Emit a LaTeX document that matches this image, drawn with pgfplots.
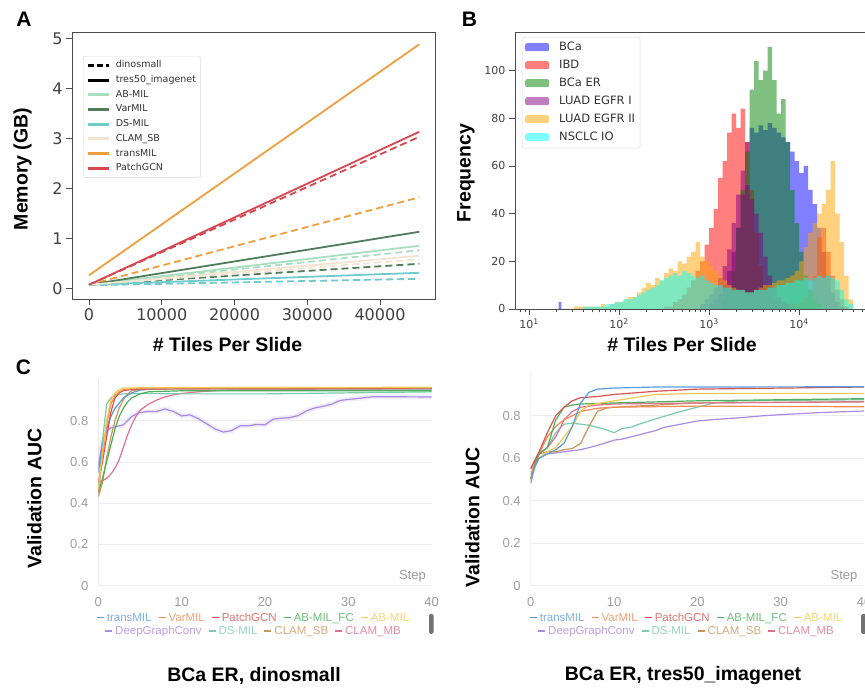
\documentclass[border=0pt]{standalone}
\usepackage{fontspec}
\setmainfont{Liberation Sans}
\newfontfamily\dejavu{DejaVu Sans}
\usepackage{pgfplots}
\usepackage{pgfplotstable}
\pgfplotsset{compat=1.18}

\definecolor{aabmil}{HTML}{A8DFC0}
\definecolor{avarmil}{HTML}{4F7D5A}
\definecolor{adsmil}{HTML}{70CCCC}
\definecolor{aclamsb}{HTML}{F3E4D2}
\definecolor{atrans}{HTML}{EEA040}
\definecolor{apatch}{HTML}{D8474F}

\definecolor{hblue}{rgb}{0,0,1}
\definecolor{hred}{rgb}{1,0,0}
\definecolor{hgreen}{rgb}{0,0.5,0}
\definecolor{hpurple}{rgb}{0.5,0,0.5}
\definecolor{horange}{rgb}{1,0.647,0}
\definecolor{hcyan}{rgb}{0,1,1}

\definecolor{ctrans}{HTML}{5A9BE0}
\definecolor{cvar}{HTML}{F28A52}
\definecolor{cpatch}{HTML}{D9534F}
\definecolor{cabfc}{HTML}{4CAF5A}
\definecolor{cab}{HTML}{F2C94C}
\definecolor{cdgc}{HTML}{A88BE3}
\definecolor{cds}{HTML}{7CCBAE}
\definecolor{csb}{HTML}{C9975A}
\definecolor{cmb}{HTML}{E0708F}

% ---------- histogram data (lx = log10 of tiles per slide, c = count) ----------
\pgfplotstableread{
lx c
1.33 3
1.36 0
2.90 2
2.95 4
3.00 6
3.05 9
3.10 13
3.15 18
3.20 25
3.25 36
3.30 48
3.35 58
3.40 70
3.45 76
3.50 74
3.55 77
3.60 75
3.65 78
3.70 76
3.75 74
3.80 72
3.85 70
3.90 66
3.95 62
4.00 57
4.05 60
4.10 50
4.15 44
4.20 34
4.25 24
4.30 14
4.35 7
4.40 3
4.45 1
4.50 0
}\hBCa
\pgfplotstableread{
lx c
2.50 1
2.60 3
2.65 4
2.70 6
2.75 9
2.80 12
2.85 16
2.90 20
2.95 27
3.00 34
3.05 42
3.10 55
3.15 62
3.20 74
3.25 82
3.30 76
3.35 84
3.40 70
3.45 50
3.50 32
3.55 18
3.60 10
3.65 6
3.70 4
3.75 3
3.80 2
3.90 2
4.00 3
4.05 5
4.10 8
4.15 14
4.20 30
4.25 34
4.30 24
4.35 14
4.40 8
4.45 4
4.50 1
4.55 0
}\hIBD
\pgfplotstableread{
lx c
3.15 4
3.20 8
3.25 16
3.30 34
3.35 50
3.40 66
3.45 92
3.50 104
3.55 96
3.60 100
3.65 110
3.70 96
3.75 82
3.80 88
3.85 70
3.90 50
3.95 36
4.00 24
4.05 14
4.10 8
4.15 4
4.20 2
4.25 0
}\hBCaER
\pgfplotstableread{
lx c
3.00 2
3.05 4
3.10 6
3.15 10
3.20 16
3.25 24
3.30 34
3.35 48
3.40 52
3.45 46
3.50 40
3.55 32
3.60 22
3.65 14
3.70 9
3.75 5
3.80 3
3.85 2
3.90 1
3.95 0
}\hEGFRa
\pgfplotstableread{
lx c
1.50 1
1.60 1
1.70 1
1.80 2
1.85 1
1.90 2
1.95 3
2.00 3
2.05 4
2.10 5
2.15 5
2.20 7
2.25 9
2.30 11
2.35 10
2.40 13
2.45 12
2.50 15
2.55 17
2.60 16
2.65 20
2.70 19
2.75 22
2.80 24
2.85 28
2.90 22
2.95 20
3.00 18
3.05 16
3.10 14
3.15 12
3.20 10
3.25 9
3.30 8
3.35 8
3.40 7
3.45 7
3.50 8
3.55 9
3.60 10
3.65 10
3.70 11
3.75 12
3.80 12
3.85 13
3.90 14
3.95 16
4.00 20
4.05 26
4.10 32
4.15 36
4.20 40
4.25 44
4.30 50
4.35 62
4.40 40
4.45 28
4.50 14
4.55 4
4.60 0
}\hEGFRb
\pgfplotstableread{
lx c
1.60 1
1.70 1
1.80 1
1.85 2
1.90 2
1.95 3
2.00 3
2.05 4
2.10 4
2.15 5
2.20 6
2.25 7
2.30 8
2.35 9
2.40 10
2.45 12
2.50 13
2.55 14
2.60 15
2.65 14
2.70 16
2.75 15
2.80 14
2.85 13
2.90 14
2.95 12
3.00 11
3.05 10
3.10 10
3.15 9
3.20 9
3.25 8
3.30 8
3.35 8
3.40 7
3.45 7
3.50 8
3.55 8
3.60 8
3.65 9
3.70 9
3.75 10
3.80 10
3.85 11
3.90 11
3.95 12
4.00 12
4.05 13
4.10 12
4.15 13
4.20 14
4.25 13
4.30 14
4.35 13
4.40 12
4.45 8
4.50 4
4.55 2
4.60 0
}\hNSCLC

\newcommand{\ldash}[1]{\textcolor{#1}{\rule[3pt]{7pt}{1.6pt}}\hspace{3pt}}
\newcommand{\lent}[2]{\ldash{#1}\textcolor{#1!80!white}{#2}}

\begin{document}
\begin{tikzpicture}[x=1pt,y=1pt]
\useasboundingbox (0,0) rectangle (865,692);
\fill[white] (0,0) rectangle (865,692);

% ================= Panel A =================
\begin{axis}[at={(72pt,393pt)}, anchor=south west, scale only axis,
  width=363pt, height=267pt,
  xmin=-2337, xmax=47560, ymin=-0.214, ymax=5.126,
  xtick={0,10000,20000,30000,40000}, ytick={0,1,2,3,4,5},
  scaled ticks=false,
  /pgf/number format/1000 sep={},
  /pgf/number format/assume math mode=true,
  tick align=outside, major tick length=6pt,
  xtick pos=lower, ytick pos=left,
  tick style={black!70, line width=0.8pt},
  axis line style={black!70, line width=0.8pt},
  ticklabel style={font=\dejavu\fontsize{16}{16}\selectfont, text=black!75},
  legend cell align=left,
  legend style={at={(0.0303,0.91)}, anchor=north west,
    font=\dejavu\fontsize{9.5}{10}\selectfont, text=black!80,
    draw=black!15, rounded corners=2pt, inner sep=3pt, row sep=2.5pt,
    nodes={inner sep=1.6pt, text height=7pt, text depth=2pt},
    /tikz/every odd column/.append style={column sep=4pt}},
  legend image code/.code={\draw[#1] (0pt,0pt) -- (21pt,0pt);},
]
\addlegendimage{black, line width=3pt, dash pattern=on 6pt off 3pt}
\addlegendentry{dinosmall}
\addlegendimage{black, line width=3pt}
\addlegendentry{tres50\_imagenet}
\addlegendimage{aabmil, line width=3pt}
\addlegendentry{AB-MIL}
\addlegendimage{avarmil, line width=3pt}
\addlegendentry{VarMIL}
\addlegendimage{adsmil, line width=3pt}
\addlegendentry{DS-MIL}
\addlegendimage{aclamsb, line width=3pt}
\addlegendentry{CLAM\_SB}
\addlegendimage{atrans, line width=3pt}
\addlegendentry{transMIL}
\addlegendimage{apatch, line width=3pt}
\addlegendentry{PatchGCN}
\pgfplotsset{dsh/.style={line width=1.8pt, dash pattern=on 7pt off 4pt, forget plot}}
\pgfplotsset{sld/.style={line width=1.8pt, forget plot}}
\addplot[dsh, aabmil] coordinates {(0,0.07) (45400,0.76)};
\addplot[dsh, avarmil] coordinates {(0,0.07) (45400,0.49)};
\addplot[dsh, adsmil] coordinates {(0,0.06) (45400,0.19)};
\addplot[dsh, aclamsb] coordinates {(0,0.07) (45400,0.58)};
\addplot[dsh, atrans] coordinates {(0,0.07) (45400,1.82)};
\addplot[dsh, apatch] coordinates {(0,0.07) (45400,3.03)};
\addplot[sld, aabmil] coordinates {(0,0.07) (45400,0.85)};
\addplot[sld, avarmil] coordinates {(0,0.07) (45400,1.13)};
\addplot[sld, adsmil] coordinates {(0,0.07) (45400,0.31)};
\addplot[sld, aclamsb] coordinates {(0,0.07) (45400,0.65)};
\addplot[sld, atrans] coordinates {(0,0.26) (45400,4.88)};
\addplot[sld, apatch] coordinates {(0,0.07) (45400,3.13)};
\end{axis}

% ================= Panel B (x in decades) =================
\begin{axis}[at={(515pt,383pt)}, anchor=south west, scale only axis,
  width=355pt, height=277pt,
  xmin=0.844, xmax=4.789, ymin=0, ymax=116.2,
  xtick={1,2,3,4},
  xticklabels={10\textsuperscript{1},10\textsuperscript{2},10\textsuperscript{3},10\textsuperscript{4}},
  minor xtick={0.903,0.954,1.301,1.477,1.602,1.699,1.778,1.845,1.903,1.954,2.301,2.477,2.602,2.699,2.778,2.845,2.903,2.954,3.301,3.477,3.602,3.699,3.778,3.845,3.903,3.954,4.301,4.477,4.602,4.699,4.778},
  ytick={0,20,40,60,80,100},
  /pgf/number format/assume math mode=true,
  tick align=outside, major tick length=6pt, minor tick length=3.5pt,
  xtick pos=lower, ytick pos=left,
  tick style={black!70, line width=0.7pt},
  axis line style={black!70, line width=0.8pt},
  ticklabel style={font=\dejavu\fontsize{11}{11}\selectfont, text=black!75},
  legend cell align=left,
  legend style={at={(0.0197,0.982)}, anchor=north west,
    font=\dejavu\fontsize{11.5}{12}\selectfont, text=black!80,
    draw=black!15, rounded corners=2pt, inner sep=3pt, row sep=3pt,
    nodes={inner sep=2pt, text height=8.5pt, text depth=2.5pt},
    /tikz/every odd column/.append style={column sep=8pt}},
  legend image code/.code={\fill[#1] (0pt,-3.5pt) rectangle (24pt,4.5pt);},
]
\addlegendimage{fill=hblue, fill opacity=0.5, draw=none}
\addlegendentry{BCa}
\addlegendimage{fill=hred, fill opacity=0.5, draw=none}
\addlegendentry{IBD}
\addlegendimage{fill=hgreen, fill opacity=0.5, draw=none}
\addlegendentry{BCa ER}
\addlegendimage{fill=hpurple, fill opacity=0.5, draw=none}
\addlegendentry{LUAD EGFR I}
\addlegendimage{fill=horange, fill opacity=0.5, draw=none}
\addlegendentry{LUAD EGFR II}
\addlegendimage{fill=hcyan, fill opacity=0.5, draw=none}
\addlegendentry{NSCLC IO}
\pgfplotsset{hst/.style={const plot, draw=none, fill opacity=0.5, forget plot}}
\addplot[hst, fill=hblue] table[x=lx, y=c] {\hBCa} \closedcycle;
\addplot[hst, fill=hred] table[x=lx, y=c] {\hIBD} \closedcycle;
\addplot[hst, fill=hgreen] table[x=lx, y=c] {\hBCaER} \closedcycle;
\addplot[hst, fill=hpurple] table[x=lx, y=c] {\hEGFRa} \closedcycle;
\addplot[hst, fill=horange] table[x=lx, y=c] {\hEGFRb} \closedcycle;
\addplot[hst, fill=hcyan] table[x=lx, y=c] {\hNSCLC} \closedcycle;
\end{axis}

% ================= Panel C =================
\pgfplotsset{cstyle/.style={scale only axis, anchor=south west,
  xmin=0, xmax=40, ymin=0, ymax=1,
  xtick={0,10,20,30,40}, ytick={0,0.2,0.4,0.6,0.8},
  /pgf/number format/assume math mode=true,
  axis line style={draw=none}, tick style={draw=none},
  ymajorgrids, grid style={black!7, line width=0.8pt},
  ticklabel style={font=\fontsize{13}{13}\selectfont, text=black!38},
  xticklabel style={yshift=-8.5pt},
  yticklabel style={xshift=-6.5pt},
  every axis plot/.append style={line width=1.2pt},
}}
\begin{axis}[cstyle, at={(98.3pt,106.3pt)}, width=333.4pt, height=206.25pt]
\addplot[black!12, line width=0.8pt] coordinates {(0,0) (0,1)};
\addplot[cdgc!60!white, opacity=0.25, line width=5pt] coordinates {(0,0.58)(0.5,0.7)(1,0.75)(1.5,0.765)(2,0.77)(3,0.78)(4,0.82)(5,0.84)(6,0.845)(7,0.845)(8,0.857)(9,0.845)(10,0.823)(11,0.828)(12,0.81)(13,0.785)(14,0.76)(15,0.745)(16,0.752)(17,0.775)(18,0.775)(19,0.782)(20,0.78)(21,0.808)(22,0.812)(23,0.815)(24,0.825)(25,0.848)(26,0.862)(27,0.87)(28,0.88)(29,0.898)(30,0.903)(31,0.907)(32,0.912)(33,0.916)(35,0.916)(40,0.915)};
\addplot[cdgc] coordinates {(0,0.58)(0.5,0.7)(1,0.75)(1.5,0.765)(2,0.77)(3,0.78)(4,0.82)(5,0.84)(6,0.845)(7,0.845)(8,0.857)(9,0.845)(10,0.823)(11,0.828)(12,0.81)(13,0.785)(14,0.76)(15,0.745)(16,0.752)(17,0.775)(18,0.775)(19,0.782)(20,0.78)(21,0.808)(22,0.812)(23,0.815)(24,0.825)(25,0.848)(26,0.862)(27,0.87)(28,0.88)(29,0.898)(30,0.903)(31,0.907)(32,0.912)(33,0.916)(35,0.916)(40,0.915)};
\addplot[cmb] coordinates {(0,0.5)(0.5,0.51)(1,0.52)(1.5,0.54)(2,0.57)(2.5,0.61)(3,0.67)(3.5,0.73)(4,0.78)(4.5,0.82)(5,0.85)(6,0.88)(7,0.9)(8,0.915)(9,0.925)(10,0.932)(12,0.94)(15,0.948)(20,0.952)(40,0.955)};
\addplot[cds] coordinates {(0,0.45)(0.5,0.7)(1,0.88)(1.5,0.91)(2,0.925)(3,0.93)(5,0.932)(10,0.93)(20,0.93)(30,0.935)(40,0.94)};
\addplot[csb] coordinates {(0,0.43)(0.5,0.5)(1,0.62)(1.5,0.72)(2,0.8)(2.5,0.86)(3,0.9)(3.5,0.93)(4,0.945)(5,0.952)(10,0.955)(40,0.955)};
\addplot[cabfc] coordinates {(0,0.45)(0.5,0.52)(1,0.6)(1.5,0.68)(2,0.76)(2.5,0.82)(3,0.86)(3.5,0.89)(4,0.91)(5,0.93)(6,0.94)(10,0.945)(40,0.945)};
\addplot[ctrans] coordinates {(0,0.55)(0.5,0.68)(1,0.76)(1.5,0.82)(2,0.86)(3,0.91)(4,0.935)(5,0.948)(6,0.952)(8,0.955)(15,0.955)(25,0.955)(40,0.955)};
\addplot[cpatch] coordinates {(0,0.5)(0.5,0.6)(1,0.72)(1.5,0.84)(2,0.91)(2.5,0.935)(3,0.945)(4,0.952)(10,0.955)(40,0.958)};
\addplot[cvar] coordinates {(0,0.45)(0.5,0.62)(1,0.78)(1.5,0.88)(2,0.92)(2.5,0.94)(3,0.95)(4,0.955)(6,0.958)(40,0.96)};
\addplot[cab] coordinates {(0,0.47)(0.5,0.65)(1,0.8)(1.5,0.9)(2,0.935)(2.5,0.95)(3,0.958)(6,0.96)(40,0.962)};
\end{axis}

\begin{axis}[cstyle, at={(530.7pt,106.3pt)}, width=333.3pt, height=212.5pt]
\addplot[black!12, line width=0.8pt] coordinates {(0,0) (0,1)};
\addplot[cdgc] coordinates {(0,0.48)(0.5,0.56)(1,0.6)(2,0.62)(3,0.625)(4,0.63)(5,0.635)(6,0.64)(7,0.65)(8,0.66)(9,0.672)(10,0.685)(11,0.69)(12,0.7)(13,0.71)(14,0.72)(15,0.73)(16,0.745)(18,0.76)(20,0.775)(22,0.782)(25,0.79)(28,0.8)(30,0.805)(35,0.815)(40,0.822)};
\addplot[cds] coordinates {(0,0.5)(0.5,0.57)(1,0.62)(2,0.65)(3,0.72)(4,0.76)(5,0.765)(6,0.76)(7,0.755)(8,0.745)(9,0.735)(10,0.72)(11,0.74)(12,0.745)(13,0.76)(15,0.785)(18,0.82)(20,0.84)(22,0.86)(25,0.87)(30,0.872)(40,0.875)};
\addplot[csb] coordinates {(0,0.5)(0.5,0.57)(1,0.62)(2,0.63)(3,0.63)(4,0.64)(5,0.645)(6,0.67)(7,0.75)(8,0.82)(9,0.835)(10,0.84)(15,0.85)(20,0.86)(40,0.866)};
\addplot[cmb] coordinates {(0,0.55)(0.5,0.59)(1,0.62)(2,0.65)(3,0.7)(4,0.78)(5,0.82)(6,0.84)(8,0.85)(10,0.855)(20,0.86)(40,0.865)};
\addplot[cvar] coordinates {(0,0.52)(0.5,0.58)(1,0.62)(2,0.7)(3,0.75)(4,0.78)(5,0.8)(6,0.82)(8,0.835)(10,0.84)(20,0.845)(40,0.842)};
\addplot[cabfc] coordinates {(0,0.5)(0.5,0.57)(1,0.62)(2,0.65)(3,0.78)(4,0.84)(5,0.85)(6,0.855)(10,0.86)(20,0.87)(40,0.88)};
\addplot[cab] coordinates {(0,0.5)(0.5,0.56)(1,0.6)(2,0.63)(3,0.65)(4,0.7)(5,0.75)(6,0.82)(7,0.85)(10,0.87)(15,0.9)(20,0.905)(40,0.905)};
\addplot[cpatch] coordinates {(0,0.55)(0.5,0.59)(1,0.63)(2,0.72)(3,0.8)(4,0.84)(5,0.87)(6,0.885)(8,0.89)(10,0.9)(15,0.915)(20,0.925)(30,0.93)(40,0.935)};
\addplot[ctrans] coordinates {(0,0.5)(0.5,0.56)(1,0.6)(2,0.62)(3,0.64)(4,0.67)(5,0.75)(6,0.86)(7,0.91)(8,0.925)(10,0.93)(15,0.935)(40,0.936)};
\end{axis}

% ================= texts =================
\node[font=\bfseries\fontsize{21}{21}\selectfont] at (24,672.5) {A};
\node[font=\bfseries\fontsize{21}{21}\selectfont] at (469.5,672.5) {B};
\node[font=\bfseries\fontsize{21}{21}\selectfont] at (23.5,325) {C};

\node[font=\bfseries\fontsize{19.5}{19.5}\selectfont, rotate=90] at (22.5,523) {Memory (GB)};
\node[font=\bfseries\fontsize{19.5}{19.5}\selectfont] at (227.5,347) {\# Tiles Per Slide};
\node[font=\bfseries\fontsize{19.5}{19.5}\selectfont, rotate=90] at (466,519) {Frequency};
\node[font=\bfseries\fontsize{19.5}{19.5}\selectfont] at (682,347) {\# Tiles Per Slide};
\node[font=\bfseries\fontsize{19.5}{19.5}\selectfont, rotate=90] at (34.5,193.5) {Validation AUC};
\node[font=\bfseries\fontsize{19.5}{19.5}\selectfont, rotate=90] at (472.5,174.5) {Validation AUC};
\node[font=\bfseries\fontsize{19.5}{19.5}\selectfont] at (254,16) {BCa ER, dinosmall};
\node[font=\bfseries\fontsize{19.5}{19.5}\selectfont] at (683,16) {BCa ER, tres50\_imagenet};

\node[font=\fontsize{13}{13}\selectfont, text=black!40] at (412.5,115.5) {Step};
\node[font=\fontsize{13}{13}\selectfont, text=black!40] at (844,115.5) {Step};

\node[font=\fontsize{11.5}{12}\selectfont, inner sep=0pt] at (253,73.7) {\lent{ctrans}{transMIL}\hspace{7pt}\lent{cvar}{VarMIL}\hspace{7pt}\lent{cpatch}{PatchGCN}\hspace{7pt}\lent{cabfc}{AB-MIL\_FC}\hspace{7pt}\lent{cab}{AB-MIL}};
\node[font=\fontsize{11.5}{12}\selectfont, inner sep=0pt] at (253,60.3) {\lent{cdgc}{DeepGraphConv}\hspace{7pt}\lent{cds}{DS-MIL}\hspace{7pt}\lent{csb}{CLAM\_SB}\hspace{7pt}\lent{cmb}{CLAM\_MB}};
\node[font=\fontsize{11.5}{12}\selectfont, inner sep=0pt] at (686,73.7) {\lent{ctrans}{transMIL}\hspace{7pt}\lent{cvar}{VarMIL}\hspace{7pt}\lent{cpatch}{PatchGCN}\hspace{7pt}\lent{cabfc}{AB-MIL\_FC}\hspace{7pt}\lent{cab}{AB-MIL}};
\node[font=\fontsize{11.5}{12}\selectfont, inner sep=0pt] at (686,60.3) {\lent{cdgc}{DeepGraphConv}\hspace{7pt}\lent{cds}{DS-MIL}\hspace{7pt}\lent{csb}{CLAM\_SB}\hspace{7pt}\lent{cmb}{CLAM\_MB}};
\fill[black!55, rounded corners=1.5pt] (429,58) rectangle (433.5,78);
\fill[black!55, rounded corners=1.5pt] (861,58) rectangle (866,78);
\end{tikzpicture}
\end{document}
